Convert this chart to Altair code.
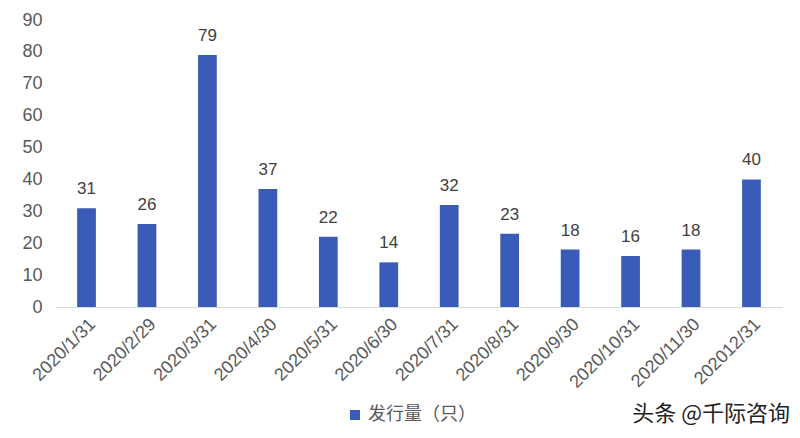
import altair as alt
import pandas as pd

dates = ["2020/1/31", "2020/2/29", "2020/3/31", "2020/4/30", "2020/5/31", "2020/6/30",
         "2020/7/31", "2020/8/31", "2020/9/30", "2020/10/31", "2020/11/30", "202012/31"]
values = [31, 26, 79, 37, 22, 14, 32, 23, 18, 16, 18, 40]
series = "发行量（只）"
y_ticks = [0, 10, 20, 30, 40, 50, 60, 70, 80, 90]

df = pd.DataFrame({"date": dates, "value": values, "series": series})

num_font = "Liberation Sans"
cjk_font = "Noto Sans CJK SC"
base = alt.Chart(df)

x_enc = alt.X("date:N", sort=dates, title=None,
              scale=alt.Scale(paddingInner=0.69, paddingOuter=0.35),
              axis=alt.Axis(labelAngle=-45, labelFontSize=18, labelColor="#595959",
                            labelFont=num_font, domainColor="#d9d9d9", ticks=False,
                            labelPadding=8, labelLimit=300, labelOverlap=False,
                            labelBound=False))
y_enc = alt.Y("value:Q", title=None,
              scale=alt.Scale(domain=[0, 90], nice=False),
              axis=alt.Axis(values=y_ticks, grid=False, domain=False, ticks=False,
                            labelFontSize=18, labelColor="#595959", labelFont=num_font,
                            labelPadding=14, labelOverlap=False, labelBound=False))

bars = base.mark_bar(color="#3A5CB8").encode(
    x=x_enc, y=y_enc,
    color=alt.Color("series:N", scale=alt.Scale(range=["#3A5CB8"]),
                    legend=alt.Legend(title=None, orient="none", legendX=290, legendY=386,
                                      labelFontSize=18, labelColor="#595959", labelFont=cjk_font,
                                      symbolType="square", symbolSize=100)))

labels = base.mark_text(dy=-19, fontSize=17, color="#404040", font=num_font).encode(
    x=x_enc, y=y_enc, text="value:Q")

wm_df = pd.DataFrame({"t": ["头条 @千际咨询"]})
wm = alt.Chart(wm_df).mark_text(align="right", baseline="middle", fontSize=22,
                                 color="#222222", font=cjk_font).encode(
    x=alt.value(734), y=alt.value(394), text="t:N")

chart = alt.layer(bars, labels, wm).properties(
    width=726, height=287,
    autosize=alt.AutoSizeParams(type="none"),
    padding={"left": 48, "top": 12, "right": 10, "bottom": 123},
    background="white",
).configure_view(stroke=None)

chart.save("out.html", embed_options={"renderer": "svg", "actions": False})
